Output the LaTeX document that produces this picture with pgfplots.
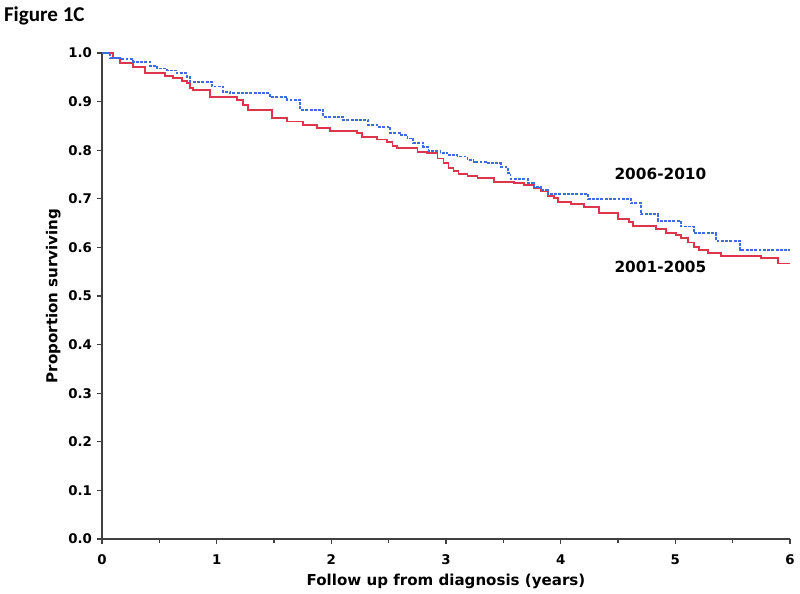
\documentclass[border=0pt]{standalone}
\usepackage{fontspec}
\setmainfont{DejaVu Sans}
\newfontfamily\carlito{Carlito}
\usepackage{pgfplots}
\pgfplotsset{compat=1.18}
\definecolor{kmred}{RGB}{222,52,76}
\definecolor{kmblue}{RGB}{62,108,222}
\begin{document}
\begin{tikzpicture}
\path[use as bounding box] (-76.5pt,-40.5pt) rectangle (523.5pt,404.25pt);
\node[anchor=west,font=\carlito\bfseries\fontsize{15.8}{18}\selectfont] at (-77pt,392pt) {Figure 1C};
\begin{axis}[
  at={(0,0)}, anchor=south west,
  scale only axis, width=516pt, height=364.5pt,
  xmin=0, xmax=6, ymin=0, ymax=1,
  axis x line*=bottom, axis y line*=left,
  axis line style={black!75, line width=0.9pt},
  xtick={0,1,2,3,4,5,6},
  minor xtick={0.5,1.5,2.5,3.5,4.5,5.5},
  ytick={0,0.1,0.2,0.3,0.4,0.5,0.6,0.7,0.8,0.9,1.0},
  yticklabel style={/pgf/number format/.cd, fixed, fixed zerofill, precision=1},
  xticklabel style={yshift=-4pt},
  tick align=outside,
  major tick length=4pt, minor tick length=3pt,
  tick style={black!75, line width=0.9pt},
  /pgf/number format/assume math mode=true,
  ticklabel style={font=\bfseries\fontsize{10}{12}\selectfont},
  xlabel={Follow up from diagnosis (years)},
  ylabel={Proportion surviving},
  label style={font=\bfseries\fontsize{11.3}{13}\selectfont},
  xlabel style={yshift=0pt},
  ylabel style={yshift=-1pt},
  clip=false,
]
\addplot[const plot, color=kmred, line width=1.4pt] coordinates {
(0,1.0) (0.096,0.99) (0.157,0.979) (0.271,0.972) (0.376,0.958) (0.550,0.953)
(0.620,0.948) (0.699,0.943) (0.742,0.938) (0.769,0.928) (0.795,0.924) (0.943,0.910)
(1.179,0.903) (1.231,0.893) (1.275,0.883) (1.485,0.866) (1.616,0.859) (1.755,0.852)
(1.878,0.846) (1.991,0.840) (2.227,0.835) (2.271,0.828) (2.402,0.822) (2.489,0.817)
(2.533,0.809) (2.576,0.804) (2.751,0.797) (2.838,0.794) (2.926,0.783) (2.978,0.773)
(3.022,0.763) (3.066,0.758) (3.109,0.751) (3.188,0.747) (3.275,0.742) (3.415,0.735)
(3.590,0.732) (3.677,0.728) (3.764,0.722) (3.825,0.715) (3.886,0.706) (3.939,0.701)
(3.974,0.694) (4.087,0.689) (4.201,0.684) (4.332,0.671) (4.498,0.658) (4.594,0.653)
(4.629,0.644) (4.830,0.637) (4.917,0.630) (5.004,0.626) (5.048,0.619) (5.109,0.610)
(5.162,0.600) (5.205,0.595) (5.284,0.588) (5.397,0.582) (5.747,0.578) (5.895,0.567)
(6.0,0.567)
};
\addplot[const plot, color=kmblue, line width=1.4pt, dash pattern=on 2.2pt off 1pt] coordinates {
(0,1.0) (0.070,0.99) (0.157,0.987) (0.271,0.982) (0.419,0.973) (0.480,0.968)
(0.568,0.964) (0.655,0.958) (0.742,0.951) (0.769,0.941) (0.961,0.931) (1.057,0.920)
(1.118,0.917) (1.467,0.909) (1.616,0.903) (1.729,0.883) (1.930,0.869) (2.105,0.862)
(2.323,0.852) (2.402,0.848) (2.515,0.836) (2.603,0.831) (2.664,0.824) (2.716,0.815)
(2.803,0.807) (2.847,0.799) (2.952,0.795) (3.013,0.790) (3.100,0.787) (3.188,0.780)
(3.240,0.776) (3.362,0.773) (3.476,0.766) (3.537,0.753) (3.563,0.741) (3.712,0.733)
(3.764,0.725) (3.825,0.718) (3.886,0.710) (4.236,0.700) (4.611,0.691) (4.699,0.668)
(4.847,0.655) (5.048,0.643) (5.162,0.629) (5.354,0.614) (5.563,0.595) (6.0,0.595)
};
\node[font=\bfseries\fontsize{11.5}{13}\selectfont] at (axis cs:4.87,0.751) {2006-2010};
\node[font=\bfseries\fontsize{11.5}{13}\selectfont] at (axis cs:4.87,0.560) {2001-2005};
\end{axis}
\end{tikzpicture}
\end{document}
